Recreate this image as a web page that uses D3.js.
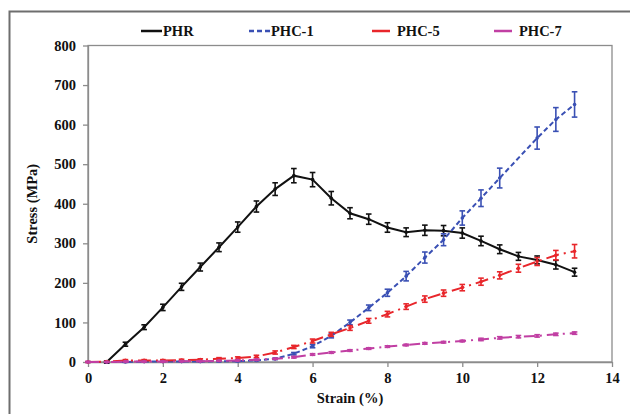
<!DOCTYPE html>
<html>
<head>
<meta charset="utf-8">
<script src="https://cdn.jsdelivr.net/npm/d3@7"></script>
<style>
body { margin: 0; background: #fff; }
svg text { font-family: "Liberation Serif", "Times New Roman", Times, "DejaVu Serif", serif !important; font-weight: bold; }
</style>
</head>
<body>
<script>
// strain (%) steps
var strainAll = [0,0.5,1,1.5,2,2.5,3,3.5,4,4.5,5,5.5,6,6.5,7,7.5,8,8.5,9,9.5,10,10.5,11,11.5,12,12.5,13];
var strainPHR = strainAll.slice(1);
var strainPHC1 = strainAll.filter(function(s) { return s !== 11.5; });

// stress values (MPa) and error bars
var phr = [0,45,88,138,190,240,290,341,393,437,471,461,414,376,361,340,328,333,332,326,306,285,267,258,246,227];
var phrErr = [3,5,6,8,9,10,11,13,14,16,18,18,17,14,13,12,11,13,13,13,12,11,10,10,11,10];
var phc1 = [0,0,0,1,1,1,1,2,2,4,8,21,40,66,100,137,175,217,264,309,364,414,465,566,613,651];
var phc1Err = [1,1,1,1,1,1,1,1,1,1,2,3,4,5,6,7,9,12,14,15,18,21,25,28,30,32];
var phc5 = [0,1,4,4,4,5,6,8,10,14,24,38,53,70,86,104,121,140,159,174,188,203,219,237,254,270,280];
var phc5Err = [1,1,2,2,2,2,2,3,3,3,4,4,5,5,6,6,7,7,8,8,8,9,9,10,10,12,17];
var phc7 = [0,0,1,1,1,2,2,3,4,6,8,12,19,24,29,34,39,43,47,50,53,57,61,64,66,70,73];
var phc7Err = [1,1,1,1,1,1,1,1,1,1,1,2,2,2,2,2,2,2,2,2,2,3,3,3,3,3,3];

var xTicks = [0,2,4,6,8,10,12,14];
var yTicks = [0,100,200,300,400,500,600,700,800];

var series = [
  {name: "PHR",   xs: strainPHR,  ys: phr,  err: phrErr,  color: "#111111", dash: null},
  {name: "PHC-1", xs: strainPHC1, ys: phc1, err: phc1Err, color: "#3a50b4", dash: "5,3"},
  {name: "PHC-5", xs: strainAll,  ys: phc5, err: phc5Err, color: "#e8262b", dash: "13,5,2,5"},
  {name: "PHC-7", xs: strainAll,  ys: phc7, err: phc7Err, color: "#c13fa3", dash: "11,5,2,5"}
];

var width = 630, height = 414;
var plotL = 88, plotR = 612, plotT = 45.5, plotB = 362;

var svg = d3.select("body").append("svg")
    .attr("width", width)
    .attr("height", height);

// outer frame
svg.append("rect")
    .attr("x", 9.5).attr("y", 11.5)
    .attr("width", 640).attr("height", 420)
    .attr("fill", "none").attr("stroke", "#6e6e6e").attr("stroke-width", 2);

var x = d3.scaleLinear().domain([0, 14]).range([plotL, plotR]);
var y = d3.scaleLinear().domain([0, 800]).range([plotB, plotT]);

// plot area border
svg.append("rect")
    .attr("x", plotL).attr("y", plotT)
    .attr("width", plotR - plotL).attr("height", plotB - plotT)
    .attr("fill", "none").attr("stroke", "#8c8c8c").attr("stroke-width", 1.3);

var yAxis = svg.append("g")
    .attr("transform", "translate(" + plotL + ",0)")
    .call(d3.axisLeft(y).tickValues(yTicks).tickSize(5).tickPadding(7).tickSizeOuter(0));
var xAxis = svg.append("g")
    .attr("transform", "translate(0," + plotB + ")")
    .call(d3.axisBottom(x).tickValues(xTicks).tickSize(5).tickPadding(6).tickSizeOuter(0));

[xAxis, yAxis].forEach(function(a) {
  a.attr("font-family", null);
  a.selectAll("path, line").attr("stroke", "#8c8c8c").attr("stroke-width", 1.3);
  a.selectAll("text").attr("fill", "#111").style("font-size", "14.5px");
});

svg.append("text")
    .attr("x", (plotL + plotR) / 2).attr("y", 403)
    .attr("text-anchor", "middle").attr("fill", "#111")
    .style("font-size", "14.5px").text("Strain (%)");

svg.append("text")
    .attr("transform", "translate(37," + (plotT + plotB) / 2 + ") rotate(-90)")
    .attr("text-anchor", "middle").attr("fill", "#111")
    .style("font-size", "14.5px").text("Stress (MPa)");

var line = d3.line().x(function(d) { return x(d[0]); }).y(function(d) { return y(d[1]); });

series.forEach(function(s) {
  var pts = s.xs.map(function(v, i) { return [v, s.ys[i], s.err[i]]; });
  var g = svg.append("g");
  g.append("path")
      .datum(pts)
      .attr("d", line)
      .attr("fill", "none")
      .attr("stroke", s.color)
      .attr("stroke-width", 2)
      .attr("stroke-dasharray", s.dash);
  // error bars
  g.selectAll("line.err").data(pts).enter().append("line")
      .attr("x1", function(d) { return x(d[0]); })
      .attr("x2", function(d) { return x(d[0]); })
      .attr("y1", function(d) { return y(d[1] - d[2]); })
      .attr("y2", function(d) { return y(d[1] + d[2]); })
      .attr("stroke", s.color).attr("stroke-width", 1.6);
  [-1, 1].forEach(function(sign) {
    g.selectAll("line.cap" + sign).data(pts).enter().append("line")
        .attr("x1", function(d) { return x(d[0]) - 2.8; })
        .attr("x2", function(d) { return x(d[0]) + 2.8; })
        .attr("y1", function(d) { return y(d[1] + sign * d[2]); })
        .attr("y2", function(d) { return y(d[1] + sign * d[2]); })
        .attr("stroke", s.color).attr("stroke-width", 1.6);
  });
  g.selectAll("circle").data(pts).enter().append("circle")
      .attr("cx", function(d) { return x(d[0]); })
      .attr("cy", function(d) { return y(d[1]); })
      .attr("r", 1.8)
      .attr("fill", s.color);
});

// legend
var legendX = [141, 249, 372, 494];
var legend = svg.selectAll("g.leg").data(series).enter().append("g")
    .attr("transform", function(d, i) { return "translate(" + legendX[i] + ",31)"; });
legend.append("line")
    .attr("x1", 0).attr("x2", function(d, i) { return i >= 2 ? 20 : 21; })
    .attr("y1", 0).attr("y2", 0)
    .attr("stroke", function(d) { return d.color; })
    .attr("stroke-width", 2.5)
    .attr("stroke-dasharray", function(d, i) { return i === 1 ? "5,3" : (i >= 2 ? "18,5,2,5" : null); });
legend.append("text")
    .attr("x", function(d, i) { return i >= 2 ? 25 : 22; })
    .attr("y", 5)
    .attr("fill", "#111")
    .style("font-size", "14.5px")
    .text(function(d) { return d.name; });
</script>
</body>
</html>
